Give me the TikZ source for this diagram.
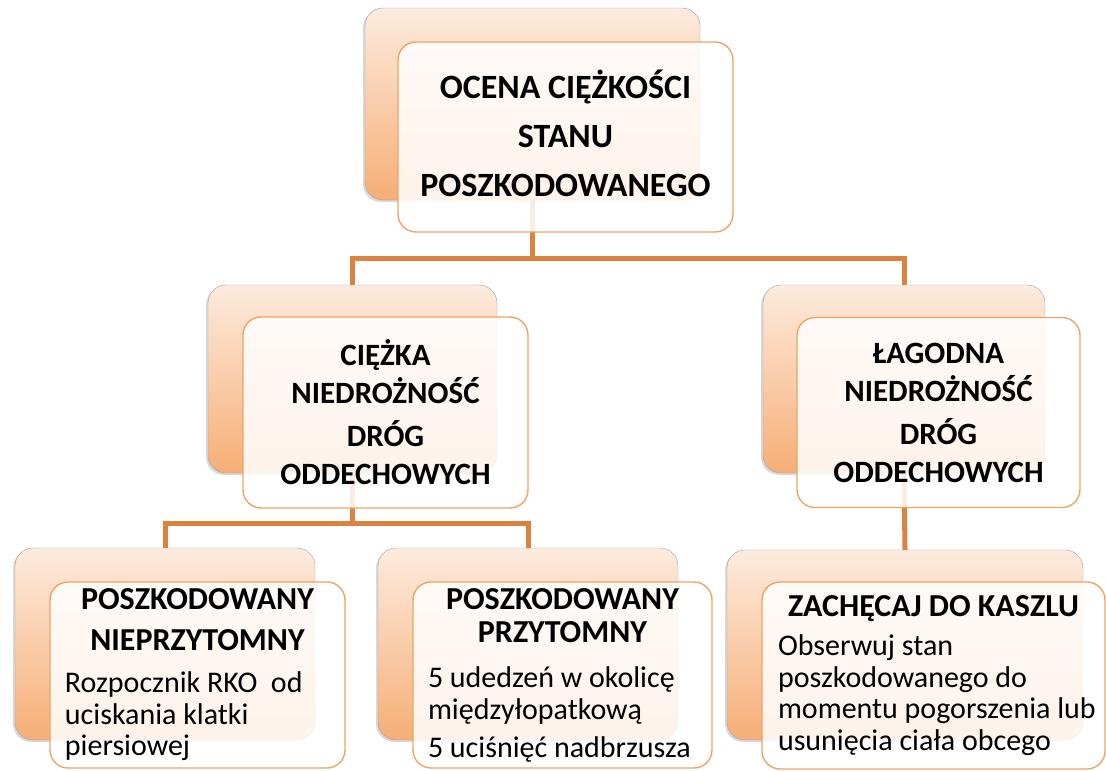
\documentclass[tikz,border=0pt]{standalone}
\usepackage{fontspec}
\setmainfont{Carlito}
\usepackage{xcolor}
\usetikzlibrary{shadows}
\definecolor{peachtop}{HTML}{FDEBDE}
\definecolor{peachbot}{HTML}{F6AE76}
\definecolor{boxline}{HTML}{F0A461}
\definecolor{linkcol}{HTML}{DA823E}

\begin{document}
\begin{tikzpicture}[x=1pt,y=-1pt,
  backbox/.style={rectangle, rounded corners=18pt, draw=gray!75, top color=peachtop, bottom color=peachbot,
    drop shadow={shadow xshift=-2pt, shadow yshift=-2pt, opacity=0.3}, inner sep=0pt},
  frontbox/.style={rectangle, rounded corners=18pt, draw=boxline, line width=1.4pt, fill=white,
    fill opacity=0.85, text opacity=1, inner sep=0pt},
  link/.style={draw=linkcol, line width=5pt},
  headfont/.style={font=\fontsize{34}{49}\selectfont\bfseries, align=center},
  midfont/.style={font=\fontsize{31}{38}\selectfont\bfseries, align=center},
  lowfont/.style={font=\fontsize{30}{31.5}\selectfont, align=flush left, inner xsep=2pt}]
\useasboundingbox (0,0) rectangle (1106,771);

% back boxes
\node[backbox, minimum width=335pt, minimum height=192pt] (btop)  at (532.5,104) {};
\node[backbox, minimum width=289pt, minimum height=188pt] (bmidl) at (352.5,379) {};
\node[backbox, minimum width=282pt, minimum height=188pt] (bmidr) at (904,379) {};
\node[backbox, minimum width=300pt, minimum height=192pt] (bbotl) at (165,644) {};
\node[backbox, minimum width=300pt, minimum height=192pt] (bbotm) at (528,644) {};
\node[backbox, minimum width=356pt, minimum height=190pt] (bbotr) at (905,645) {};

% connectors
\coordinate (j1) at (532.5,258);
\coordinate (j2) at (352.5,523);
\draw[link] (btop.south) -- (j1);
\draw[link] (bmidl.north) |- (j1) -| (bmidr.north);
\draw[link] (bmidl.south) -- (j2);
\draw[link] (bbotl.north) |- (j2) -| (bbotm.north);
\draw[link] (bmidr.south) -- (bbotr.north);

% front boxes
\node[frontbox, headfont, minimum width=335pt, minimum height=190pt] (ftop) at (565.5,137)
  {OCENA CIĘŻKOŚCI\\STANU\\POSZKODOWANEGO\rule[-8pt]{0pt}{0pt}};
\node[frontbox, midfont, minimum width=285pt, minimum height=191pt] (fmidl) at (385.5,412.5)
  {CIĘŻKA\\NIEDROŻNOŚĆ\\[5pt]DRÓG\\ODDECHOWYCH};
\node[frontbox, midfont, minimum width=283pt, minimum height=190pt] (fmidr) at (938.5,412.5)
  {ŁAGODNA\\NIEDROŻNOŚĆ\\[5pt]DRÓG\\ODDECHOWYCH};
\node[frontbox, lowfont, text width=291pt, minimum height=186pt] (fbotl) at (197.5,675)
  {\vspace*{16pt}{\centering\bfseries\fontsize{32}{30}\selectfont POSZKODOWANY\par\vspace{-5pt}NIEPRZYTOMNY\par}
   \parindent=13pt\vspace{10.5pt}Rozpocznik RKO\ \ od\par uciskania klatki\par piersiowej};
\node[frontbox, lowfont, text width=295pt, minimum height=186pt] (fbotm) at (562.5,675)
  {\vspace*{6pt}{\centering\bfseries\fontsize{32}{27}\selectfont POSZKODOWANY\par PRZYTOMNY\par}
   \parindent=13pt\vspace{14pt}5 udedzeń w okolicę\par międzyłopatkową\par
   \vspace{6.5pt}5 uciśnięć nadbrzusza};
\node[frontbox, lowfont, text width=339pt, minimum height=187pt] (fbotr) at (933.5,675.5)
  {\vspace*{8pt}{\centering\bfseries\fontsize{32}{33}\selectfont ZACHĘCAJ DO KASZLU\par}
   \parindent=14pt\vspace{0pt}Obserwuj stan\par poszkodowanego do\par momentu pogorszenia lub\par usunięcia ciała obcego};
\end{tikzpicture}
\end{document}
